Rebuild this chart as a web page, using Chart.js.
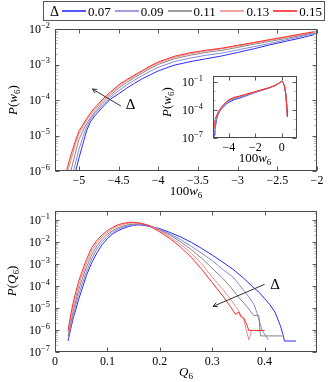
<!DOCTYPE html>
<html lang="en">
  <head>
    <meta charset="utf-8" />
    <title>P(w6) and P(Q6) for several Delta</title>
    <style>
      * {
        margin: 0;
        padding: 0;
      }
      body {
        width: 330px;
        height: 382px;
        background: white;
        position: relative;
        overflow: hidden;
      }
      canvas {
        position: absolute;
        left: 0;
        top: 0;
      }
      .legend {
        position: absolute;
        left: 43px;
        top: 1px;
        width: 282px;
        height: 20px;
        border: 1px solid #555;
        box-sizing: border-box;
        font-family: "Liberation Serif", serif;
        font-size: 13px;
        color: #000;
        z-index: 5;
      }
      .legend span {
        position: absolute;
        top: 1px;
        line-height: 17px;
      }
      .legend b {
        position: absolute;
        display: block;
        top: 8px;
        width: 24px;
        height: 2px;
        opacity: 0.8;
      }
    </style>
  </head>
  <body>
    <div class="legend" id="legend"></div>
    <canvas id="topChart" width="330" height="382"></canvas>
    <canvas id="bottomChart" width="330" height="382"></canvas>
    <canvas id="insetChart" width="330" height="382"></canvas>

    <script src="https://cdn.jsdelivr.net/npm/chart.js"></script>
    <script>
      // series
      const deltas = ["0.07", "0.09", "0.11", "0.13", "0.15"];
      const colors = ["#2b2bff", "#8686d8", "#858585", "#ec8e8e", "#ff2b2b"];

      // top panel: log10 P(w6) vs 100 w6
      const wX = [-5.2, -5.15, -5.1, -5.05, -5.0, -4.95, -4.9, -4.85, -4.8, -4.7, -4.6, -4.5, -4.4, -4.3, -4.2, -4.1, -4.0, -3.8, -3.6, -3.4, -3.2, -3.0, -2.8, -2.6, -2.4, -2.2, -2.0];
      const wLog07 = [-7.5, -7.1, -6.7, -6.1, -5.65, -5.25, -4.85, -4.6, -4.45, -4.2, -3.97, -3.83, -3.67, -3.53, -3.4, -3.29, -3.18, -3.02, -2.92, -2.84, -2.76, -2.66, -2.56, -2.45, -2.35, -2.25, -2.14];
      const wLog09 = [-7.1, -6.7, -6.3, -5.85, -5.4, -5.05, -4.75, -4.54, -4.39, -4.14, -3.92, -3.74, -3.58, -3.44, -3.31, -3.19, -3.08, -2.92, -2.82, -2.74, -2.68, -2.59, -2.5, -2.41, -2.31, -2.21, -2.11];
      const wLog11 = [-6.8, -6.4, -6.0, -5.55, -5.12, -4.88, -4.66, -4.49, -4.34, -4.08, -3.86, -3.67, -3.51, -3.37, -3.24, -3.11, -3.0, -2.84, -2.74, -2.66, -2.6, -2.52, -2.43, -2.35, -2.27, -2.18, -2.09];
      const wLog13 = [-6.5, -6.1, -5.7, -5.3, -4.96, -4.76, -4.57, -4.41, -4.27, -4.02, -3.81, -3.62, -3.46, -3.33, -3.2, -3.07, -2.96, -2.8, -2.7, -2.62, -2.56, -2.48, -2.4, -2.32, -2.24, -2.16, -2.07];
      const wLog15 = [-6.3, -5.95, -5.55, -5.2, -4.88, -4.7, -4.52, -4.36, -4.22, -3.98, -3.77, -3.58, -3.43, -3.3, -3.17, -3.04, -2.93, -2.77, -2.67, -2.6, -2.54, -2.46, -2.38, -2.3, -2.22, -2.14, -2.06];

      // inset: full range of 100 w6
      const insetX = [-5.15, -5.1, -5.05, -5.0, -4.9, -4.8, -4.6, -4.4, -4.2, -4.0, -3.6, -3.2, -2.8, -2.4, -2.0, -1.5, -1.0, -0.5, -0.25, -0.1, 0.0, 0.1, 0.2, 0.3, 0.4, 0.43];
      const insetLog07 = [-7.1, -6.7, -6.1, -5.65, -4.85, -4.45, -3.97, -3.67, -3.4, -3.18, -2.92, -2.76, -2.56, -2.35, -2.14, -1.92, -1.7, -1.42, -1.21, -1.07, -0.98, -1.1, -1.45, -2.3, -4.0, -4.73];
      const insetLog09 = [-6.7, -6.3, -5.85, -5.4, -4.75, -4.39, -3.92, -3.58, -3.31, -3.08, -2.82, -2.68, -2.5, -2.31, -2.11, -1.9, -1.69, -1.42, -1.21, -1.07, -0.98, -1.1, -1.45, -2.3, -4.0, -4.73];
      const insetLog11 = [-6.4, -6.0, -5.55, -5.12, -4.66, -4.34, -3.86, -3.51, -3.24, -3.0, -2.74, -2.6, -2.43, -2.27, -2.09, -1.88, -1.68, -1.41, -1.2, -1.06, -0.97, -1.1, -1.45, -2.3, -4.0, -4.73];
      const insetLog13 = [-6.1, -5.7, -5.3, -4.96, -4.57, -4.27, -3.81, -3.46, -3.2, -2.96, -2.7, -2.56, -2.4, -2.24, -2.07, -1.87, -1.67, -1.41, -1.2, -1.06, -0.97, -1.1, -1.45, -2.3, -4.0, -4.73];
      const insetLog15 = [-5.95, -5.55, -5.2, -4.88, -4.52, -4.22, -3.77, -3.43, -3.17, -2.93, -2.67, -2.54, -2.38, -2.22, -2.06, -1.86, -1.66, -1.4, -1.2, -1.06, -0.97, -1.1, -1.45, -2.3, -4.0, -4.73];

      // bottom panel: log10 P(Q6) vs Q6
      const qX07 = [0.025, 0.03, 0.035, 0.04, 0.045, 0.05, 0.06, 0.07, 0.08, 0.09, 0.1, 0.11, 0.12, 0.13, 0.14, 0.15, 0.16, 0.17, 0.18, 0.2, 0.22, 0.24, 0.26, 0.28, 0.3, 0.32, 0.34, 0.36, 0.38, 0.39, 0.4, 0.41, 0.42, 0.43, 0.435, 0.438, 0.46];
      const qLog07 = [-6.5, -5.95, -5.45, -5.05, -4.62, -4.27, -3.52, -2.95, -2.5, -2.13, -1.85, -1.64, -1.5, -1.39, -1.31, -1.25, -1.23, -1.25, -1.3, -1.4, -1.58, -1.78, -2.02, -2.3, -2.6, -2.92, -3.25, -3.65, -4.1, -4.3, -4.58, -4.85, -5.2, -5.8, -6.2, -6.5, -6.5];
      const qX09 = [0.025, 0.03, 0.035, 0.04, 0.045, 0.05, 0.06, 0.07, 0.08, 0.09, 0.1, 0.11, 0.12, 0.13, 0.14, 0.15, 0.16, 0.17, 0.18, 0.2, 0.22, 0.24, 0.26, 0.28, 0.3, 0.32, 0.34, 0.35, 0.36, 0.37, 0.38, 0.385, 0.39, 0.395, 0.407];
      const qLog09 = [-6.4, -5.85, -5.3, -4.85, -4.42, -4.05, -3.35, -2.78, -2.32, -2.0, -1.75, -1.56, -1.43, -1.33, -1.26, -1.22, -1.2, -1.22, -1.27, -1.43, -1.65, -1.9, -2.2, -2.52, -2.85, -3.25, -3.6, -3.9, -4.2, -4.5, -4.85, -5.2, -5.6, -6.0, -6.45];
      const qX11 = [0.025, 0.03, 0.035, 0.04, 0.045, 0.05, 0.06, 0.07, 0.08, 0.09, 0.1, 0.11, 0.12, 0.13, 0.14, 0.15, 0.16, 0.17, 0.18, 0.2, 0.22, 0.24, 0.26, 0.28, 0.3, 0.32, 0.335, 0.35, 0.367, 0.379, 0.389, 0.392, 0.434];
      const qLog11 = [-6.27, -5.7, -5.12, -4.65, -4.2, -3.82, -3.15, -2.6, -2.18, -1.88, -1.66, -1.49, -1.37, -1.28, -1.22, -1.19, -1.18, -1.2, -1.25, -1.46, -1.7, -2.0, -2.35, -2.75, -3.2, -3.65, -4.05, -4.5, -4.96, -5.34, -5.34, -6.27, -6.27];
      const qX13 = [0.025, 0.03, 0.035, 0.04, 0.045, 0.05, 0.06, 0.07, 0.08, 0.09, 0.1, 0.11, 0.12, 0.13, 0.14, 0.15, 0.16, 0.17, 0.18, 0.2, 0.22, 0.24, 0.26, 0.28, 0.3, 0.32, 0.335, 0.345, 0.35, 0.355, 0.36, 0.365, 0.37, 0.375];
      const qLog13 = [-6.1, -5.5, -4.92, -4.45, -4.0, -3.63, -2.97, -2.42, -2.04, -1.77, -1.57, -1.41, -1.29, -1.21, -1.16, -1.14, -1.15, -1.19, -1.26, -1.5, -1.78, -2.12, -2.52, -3.0, -3.6, -4.15, -4.6, -4.95, -5.1, -5.35, -5.5, -6.0, -6.45, -6.02];
      const qX15 = [0.025, 0.03, 0.035, 0.04, 0.045, 0.05, 0.06, 0.07, 0.08, 0.09, 0.1, 0.11, 0.12, 0.13, 0.14, 0.15, 0.16, 0.17, 0.18, 0.2, 0.22, 0.24, 0.26, 0.28, 0.3, 0.32, 0.335, 0.345, 0.35, 0.355, 0.36, 0.365, 0.37, 0.4];
      const qLog15 = [-6.02, -5.3, -4.73, -4.25, -3.8, -3.45, -2.8, -2.27, -1.93, -1.68, -1.49, -1.34, -1.23, -1.16, -1.12, -1.11, -1.14, -1.2, -1.28, -1.55, -1.86, -2.25, -2.7, -3.25, -3.85, -4.45, -4.95, -5.3, -5.18, -5.4, -5.45, -5.7, -6.02, -6.02];

      // tick labels
      const wTicks = [-5, -4.5, -4, -3.5, -3, -2.5, -2];
      const insetTicks = [-4, -2, 0];
      const qTicks = [0, 0.1, 0.2, 0.3, 0.4];

      const FONT = '"Liberation Serif", serif';

      // legend (html)
      const legend = document.getElementById("legend");
      let legendHtml = '<span style="left:6px;font-size:14px">Δ</span>';
      deltas.forEach((d, i) => {
        const off = 18 + i * 52.8;
        legendHtml +=
          '<b style="left:' + off + "px;background-color:" + colors[i] + '"></b>' +
          '<span style="left:' + (off + 26) + 'px">' + d + "</span>";
      });
      legend.innerHTML = legendHtml;

      function toPoints(xs, logs) {
        return xs.map((x, i) => ({ x: x, y: Math.pow(10, logs[i]) }));
      }

      function buildSets(pairs) {
        // red (largest delta) drawn on top: dataset 0 is drawn last
        return pairs
          .map((p, i) => ({
            label: deltas[i],
            data: toPoints(p[0], p[1]),
            borderColor: colors[i],
            borderWidth: 1,
            fill: false,
          }))
          .reverse();
      }

      function fontFor(kind, fs) {
        const size = kind === "sub" || kind === "sup" ? fs * 0.7 : fs;
        return (kind === "i" ? "italic " : "") + size + "px " + FONT;
      }

      function drawRich(ctx, parts, x, y, fs, align) {
        let w = 0;
        parts.forEach(([t, k]) => {
          ctx.font = fontFor(k, fs);
          w += ctx.measureText(t).width;
        });
        let cx = align === "right" ? x - w : align === "center" ? x - w / 2 : x;
        ctx.textAlign = "left";
        ctx.textBaseline = "alphabetic";
        parts.forEach(([t, k]) => {
          ctx.font = fontFor(k, fs);
          const dy = k === "sub" ? fs * 0.22 : k === "sup" ? -fs * 0.42 : 0;
          ctx.fillText(t, cx, y + dy);
          cx += ctx.measureText(t).width;
        });
      }

      function seg(ctx, x1, y1, x2, y2) {
        ctx.beginPath();
        ctx.moveTo(x1, y1);
        ctx.lineTo(x2, y2);
        ctx.stroke();
      }

      function fmt(v) {
        return v < 0 ? "\u2212" + String(-v) : String(v);
      }

      function drawFrame(chart, d) {
        const { ctx, chartArea: a, scales } = chart;
        const xs = scales.x, ys = scales.y;
        const L = Math.round(a.left) + 0.5, R = Math.round(a.right) - 0.5;
        const T = Math.round(a.top) + 0.5, B = Math.round(a.bottom) - 0.5;
        ctx.save();
        ctx.lineWidth = 1;

        // minor log ticks
        ctx.strokeStyle = "#bdbdbd";
        const e0 = Math.floor(Math.log10(ys.min)), e1 = Math.ceil(Math.log10(ys.max));
        for (let e = e0; e <= e1; e++) {
          if (d.minorDecades) {
            const v = Math.pow(10, e);
            if (v > ys.min && v < ys.max && !d.yLabels.includes(e)) {
              const py = Math.round(ys.getPixelForValue(v)) + 0.5;
              seg(ctx, L, py, L + 2.5, py);
              seg(ctx, R, py, R - 2.5, py);
            }
            continue;
          }
          for (let k = 2; k <= 9; k++) {
            const v = k * Math.pow(10, e);
            if (v <= ys.min || v >= ys.max) continue;
            const py = Math.round(ys.getPixelForValue(v)) + 0.5;
            seg(ctx, L, py, L + 2.5, py);
            seg(ctx, R, py, R - 2.5, py);
          }
        }

        // major ticks
        ctx.strokeStyle = "#5a5a5a";
        d.yLabels.forEach((e) => {
          const py = Math.round(ys.getPixelForValue(Math.pow(10, e))) + 0.5;
          seg(ctx, L, py, L + 4, py);
          seg(ctx, R, py, R - 4, py);
        });
        d.xTicks.forEach((v) => {
          const px = Math.round(xs.getPixelForValue(v)) + 0.5;
          seg(ctx, px, B, px, B - 4);
          seg(ctx, px, T, px, T + 4);
        });
        ctx.strokeStyle = "#4a4a4a";
        ctx.strokeRect(L, T, R - L, B - T);

        // tick labels
        ctx.fillStyle = "#000";
        const fs = d.fs;
        d.yLabels.forEach((e) => {
          const py = ys.getPixelForValue(Math.pow(10, e));
          drawRich(ctx, [["10", "r"], ["\u2212" + -e, "sup"]], a.left - d.yGap, py + fs * 0.33, fs, "right");
        });
        d.xTicks.forEach((v) => {
          const px = xs.getPixelForValue(v);
          drawRich(ctx, [[fmt(v), "r"]], px, d.xLabelBase, fs, "center");
        });

        // axis titles
        drawRich(ctx, d.xTitle, (a.left + a.right) / 2, d.xTitleBase, d.tfs, "center");
        ctx.save();
        ctx.translate(d.yTitleBase, d.yTitleMid);
        ctx.rotate(-Math.PI / 2);
        drawRich(ctx, d.yTitle, 0, 0, d.tfs, "center");
        ctx.restore();

        // arrow with delta
        if (d.arrow) {
          const [tx, ty, hx, hy, lx, ly] = d.arrow;
          const x1 = xs.getPixelForValue(tx), y1 = ys.getPixelForValue(ty);
          const x2 = xs.getPixelForValue(hx), y2 = ys.getPixelForValue(hy);
          ctx.strokeStyle = "#333";
          seg(ctx, x1, y1, x2, y2);
          const ang = Math.atan2(y2 - y1, x2 - x1);
          for (const s of [-1, 1]) {
            seg(ctx, x2, y2, x2 - 5 * Math.cos(ang + s * 0.45), y2 - 5 * Math.sin(ang + s * 0.45));
          }
          ctx.fillStyle = "#000";
          ctx.font = "15px " + FONT;
          ctx.textAlign = "left";
          ctx.textBaseline = "middle";
          ctx.fillText("Δ", xs.getPixelForValue(lx), ys.getPixelForValue(ly));
        }
        ctx.restore();
      }

      function makeChart(id, pad, xr, yr, datasets, deco) {
        return new Chart(document.getElementById(id), {
          type: "line",
          data: { datasets },
          options: {
            responsive: false,
            animation: false,
            events: [],
            layout: { padding: pad },
            plugins: { legend: { display: false }, tooltip: { enabled: false } },
            elements: { point: { radius: 0 }, line: { borderWidth: 1, tension: 0 } },
            scales: {
              x: { type: "linear", min: xr[0], max: xr[1], display: false },
              y: { type: "logarithmic", min: yr[0], max: yr[1], display: false },
            },
          },
          plugins: [
            {
              id: "frame",
              beforeDatasetsDraw(c) {
                if (!deco.whiteBg) return;
                const a = c.chartArea;
                c.ctx.save();
                c.ctx.fillStyle = "#fff";
                c.ctx.fillRect(a.left, a.top, a.right - a.left, a.bottom - a.top);
                c.ctx.restore();
              },
              afterDraw(c) {
                drawFrame(c, deco);
              },
            },
          ],
        });
      }

      const w6Title = [["100", "r"], ["w", "i"], ["6", "sub"]];
      const pw6Title = [["P", "i"], ["(", "r"], ["w", "i"], ["6", "sub"], [")", "r"]];

      // top chart
      makeChart(
        "topChart",
        { left: 55, top: 29, right: 13, bottom: 211 },
        [-5.3, -2],
        [1e-6, 1e-2],
        buildSets([
          [wX, wLog07],
          [wX, wLog09],
          [wX, wLog11],
          [wX, wLog13],
          [wX, wLog15],
        ]),
        {
          fs: 12,
          tfs: 13,
          yGap: 5,
          xTicks: wTicks,
          yLabels: [-6, -5, -4, -3, -2],
          xLabelBase: 184,
          xTitle: w6Title,
          xTitleBase: 195,
          yTitle: pw6Title,
          yTitleBase: 17,
          yTitleMid: 100,
          arrow: [-4.47, Math.pow(10, -4.17), -4.83, Math.pow(10, -3.69), -4.41, Math.pow(10, -4.14)],
        }
      );

      // bottom chart
      makeChart(
        "bottomChart",
        { left: 55, top: 211, right: 13, bottom: 30 },
        [0, 0.5],
        [1e-7, Math.pow(10, -0.6)],
        buildSets([
          [qX07, qLog07],
          [qX09, qLog09],
          [qX11, qLog11],
          [qX13, qLog13],
          [qX15, qLog15],
        ]),
        {
          fs: 12,
          tfs: 13,
          yGap: 5,
          xTicks: qTicks,
          yLabels: [-7, -6, -5, -4, -3, -2, -1],
          xLabelBase: 365,
          xTitle: [["Q", "i"], ["6", "sub"]],
          xTitleBase: 376,
          yTitle: [["P", "i"], ["(", "r"], ["Q", "i"], ["6", "sub"], [")", "r"]],
          yTitleBase: 16,
          yTitleMid: 281,
          arrow: [0.4, Math.pow(10, -3.93), 0.3015, Math.pow(10, -4.93), 0.411, Math.pow(10, -3.98)],
        }
      );

      // inset
      makeChart(
        "insetChart",
        { left: 213, top: 76, right: 33, bottom: 244 },
        [-5.2, 1.15],
        [1e-7, Math.pow(10, -0.4)],
        buildSets([
          [insetX, insetLog07],
          [insetX, insetLog09],
          [insetX, insetLog11],
          [insetX, insetLog13],
          [insetX, insetLog15],
        ]),
        {
          whiteBg: true,
          minorDecades: true,
          fs: 12,
          tfs: 13,
          yGap: 10,
          xTicks: insetTicks,
          yLabels: [-7, -4, -1],
          xLabelBase: 151,
          xTitle: w6Title,
          xTitleBase: 162,
          yTitle: pw6Title,
          yTitleBase: 171,
          yTitleMid: 102,
        }
      );
    </script>
  </body>
</html>
